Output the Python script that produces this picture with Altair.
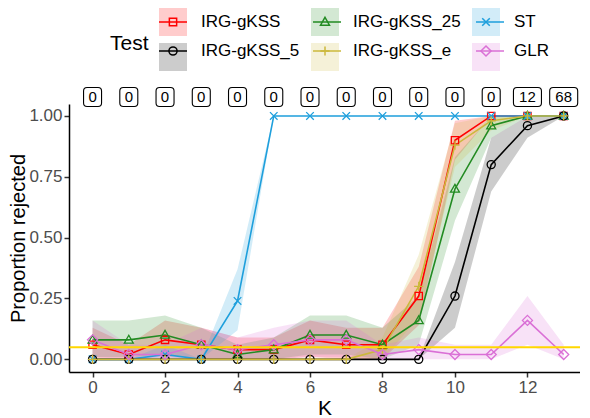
import altair as alt
import pandas as pd

# K values on the x axis
k_values = list(range(14))

# tests, in legend order (row by row)
tests = ["IRG-gKSS", "IRG-gKSS_25", "ST", "IRG-gKSS_5", "IRG-gKSS_e", "GLR"]
colors = ["#FF0000", "#228B22", "#1E9FDC", "#000000", "#CBB83C", "#DA70D6"]
shapes = [
    "M-0.26,-0.26H0.26V0.26H-0.26Z",                                    # square
    "M0,-0.33L0.32,0.23H-0.32Z",                                        # triangle
    "M-0.27,-0.27L0.27,0.27M-0.27,0.27L0.27,-0.27",                     # cross
    "M0.29,0A0.29,0.29,0,1,1,-0.29,0A0.29,0.29,0,1,1,0.29,0Z",          # circle
    "M-0.33,0H0.33M0,-0.33V0.33",                                       # plus
    "M0,-0.36L0.36,0L0,0.36L-0.36,0Z",                                  # diamond
]

# proportion rejected and its band, one set per test
irg_gkss = [0.06, 0.02, 0.08, 0.06, 0.04, 0.04, 0.08, 0.06, 0.06, 0.26, 0.90, 1.00, 1.00, 1.00]
irg_gkss_lo = [0.00, 0.00, 0.01, 0.00, 0.00, 0.00, 0.01, 0.00, 0.00, 0.14, 0.82, 1.00, 1.00, 1.00]
irg_gkss_hi = [0.13, 0.06, 0.16, 0.13, 0.09, 0.09, 0.16, 0.13, 0.13, 0.38, 0.98, 1.00, 1.00, 1.00]

irg_gkss_25 = [0.08, 0.08, 0.10, 0.06, 0.02, 0.04, 0.10, 0.10, 0.06, 0.16, 0.70, 0.96, 1.00, 1.00]
irg_gkss_25_lo = [0.01, 0.01, 0.02, 0.00, 0.00, 0.00, 0.02, 0.02, 0.00, 0.06, 0.57, 0.91, 1.00, 1.00]
irg_gkss_25_hi = [0.16, 0.16, 0.18, 0.13, 0.06, 0.09, 0.18, 0.18, 0.13, 0.26, 0.83, 1.00, 1.00, 1.00]

st = [0.00, 0.00, 0.02, 0.00, 0.24, 1.00, 1.00, 1.00, 1.00, 1.00, 1.00, 1.00, 1.00, 1.00]
st_lo = [0.00, 0.00, 0.00, 0.00, 0.12, 1.00, 1.00, 1.00, 1.00, 1.00, 1.00, 1.00, 1.00, 1.00]
st_hi = [0.00, 0.00, 0.06, 0.00, 0.37, 1.00, 1.00, 1.00, 1.00, 1.00, 1.00, 1.00, 1.00, 1.00]

irg_gkss_5 = [0.00, 0.00, 0.00, 0.00, 0.00, 0.00, 0.00, 0.00, 0.00, 0.00, 0.26, 0.80, 0.96, 1.00]
irg_gkss_5_lo = [0.00, 0.00, 0.00, 0.00, 0.00, 0.00, 0.00, 0.00, 0.00, 0.00, 0.13, 0.69, 0.91, 1.00]
irg_gkss_5_hi = [0.00, 0.00, 0.00, 0.00, 0.00, 0.00, 0.00, 0.00, 0.00, 0.00, 0.40, 0.91, 1.00, 1.00]

irg_gkss_e = [0.00, 0.00, 0.00, 0.00, 0.00, 0.00, 0.00, 0.00, 0.04, 0.30, 0.88, 0.98, 1.00, 1.00]
irg_gkss_e_lo = [0.00, 0.00, 0.00, 0.00, 0.00, 0.00, 0.00, 0.00, 0.00, 0.17, 0.79, 0.94, 1.00, 1.00]
irg_gkss_e_hi = [0.00, 0.00, 0.00, 0.00, 0.00, 0.00, 0.00, 0.00, 0.09, 0.43, 0.97, 1.00, 1.00, 1.00]

glr = [0.08, 0.02, 0.02, 0.06, 0.04, 0.06, 0.08, 0.08, 0.02, 0.04, 0.02, 0.02, 0.16, 0.02]
glr_lo = [0.01, 0.00, 0.00, 0.00, 0.00, 0.00, 0.01, 0.01, 0.00, 0.00, 0.00, 0.00, 0.06, 0.00]
glr_hi = [0.16, 0.06, 0.06, 0.13, 0.09, 0.13, 0.16, 0.16, 0.06, 0.09, 0.06, 0.06, 0.26, 0.06]

# counts printed in the boxes above the panel
counts = [0, 0, 0, 0, 0, 0, 0, 0, 0, 0, 0, 0, 12, 68]

# nominal level
alpha_level = 0.05

FONT = "Liberation Sans"


def build_frame():
    """Long table with one row per test and K."""
    series = {
        "IRG-gKSS": (irg_gkss, irg_gkss_lo, irg_gkss_hi),
        "IRG-gKSS_25": (irg_gkss_25, irg_gkss_25_lo, irg_gkss_25_hi),
        "ST": (st, st_lo, st_hi),
        "IRG-gKSS_5": (irg_gkss_5, irg_gkss_5_lo, irg_gkss_5_hi),
        "IRG-gKSS_e": (irg_gkss_e, irg_gkss_e_lo, irg_gkss_e_hi),
        "GLR": (glr, glr_lo, glr_hi),
    }
    rows = []
    for name in tests:
        p, lo, hi = series[name]
        for k, v, l, h in zip(k_values, p, lo, hi):
            rows.append({"K": k, "Test": name, "Key": name, "p": v, "lo": l, "hi": h})
    return pd.DataFrame(rows)


def legend(zindex, symbol_type=None, visible_text=False, opacity=1):
    """Three legends are stacked on the same spot: boxes, lines, markers."""
    text_color = "black" if visible_text else "transparent"
    opts = dict(
        orient="none", legendX=41, legendY=-97, columns=3, direction="horizontal",
        title="Test", titleOrient="left", titleAnchor="middle", titleBaseline="top",
        titleFont=FONT, titleFontSize=21, titleFontWeight="normal", titleColor=text_color,
        titlePadding=9, labelFont=FONT, labelFontSize=17, labelColor=text_color,
        labelOffset=13, symbolSize=784, symbolStrokeWidth=1.5, symbolOpacity=opacity,
        rowPadding=6, columnPadding=10, padding=0, zindex=zindex,
    )
    if symbol_type:
        opts["symbolType"] = symbol_type
    return alt.Legend(**opts)


df = build_frame()
labels = pd.DataFrame({"K": k_values, "n": counts})
labels["label"] = labels["n"].astype(str)

x_enc = alt.X("K:Q", scale=alt.Scale(domain=[-0.65, 13.45], nice=False, zero=False),
              axis=alt.Axis(values=[0, 2, 4, 6, 8, 10, 12], title="K", titlePadding=2))
y_scale = alt.Scale(domain=[-0.052, 1.049], nice=False, zero=False)
y_axis = alt.Axis(values=[0, 0.25, 0.5, 0.75, 1], format=".2f",
                  title="Proportion rejected", titlePadding=0, titleFontSize=20)

# band legend: data-driven domain (sorted), so it is kept apart from the others
ribbons = alt.Chart(df).mark_area(opacity=0.2).encode(
    x=x_enc,
    y=alt.Y("lo:Q", scale=y_scale, axis=y_axis),
    y2="hi:Q",
    fill=alt.Fill("Test:N", sort=tests, scale=alt.Scale(range=colors),
                  legend=legend(0, "square", opacity=0.2)),
)

lines = alt.Chart(df).mark_line(strokeWidth=1.6).encode(
    x=x_enc,
    y=alt.Y("p:Q", scale=y_scale, axis=y_axis),
    stroke=alt.Stroke("Test:N", sort=tests, scale=alt.Scale(range=colors),
                      legend=legend(1, "stroke")),
)

# marker legend: colour and shape share an explicit domain, so they merge
points = alt.Chart(df).mark_point(filled=False, size=784, strokeWidth=1.3, opacity=1).encode(
    x=x_enc,
    y=alt.Y("p:Q", scale=y_scale, axis=y_axis),
    color=alt.Color("Key:N", scale=alt.Scale(domain=tests, range=colors),
                    legend=legend(2, visible_text=True)),
    shape=alt.Shape("Key:N", scale=alt.Scale(domain=tests, range=shapes),
                    legend=legend(2, visible_text=True)),
)

hline = alt.Chart(pd.DataFrame({"level": [alpha_level]})).mark_rule(
    color="#FFD700", strokeWidth=2
).encode(y=alt.Y("level:Q", scale=y_scale, axis=y_axis))

# boxed counts above the panel
label_y = alt.datum(1.078)
box_one = alt.Chart(labels).transform_filter("datum.n < 10").mark_rect(
    width=18, height=19, fill="white", stroke="black", strokeWidth=1.1, cornerRadius=3.5
).encode(x=x_enc, y=label_y)
box_two = alt.Chart(labels).transform_filter("datum.n >= 10").mark_rect(
    width=28, height=19, fill="white", stroke="black", strokeWidth=1.1, cornerRadius=3.5
).encode(x=x_enc, y=label_y)
box_text = alt.Chart(labels).mark_text(
    font=FONT, fontSize=15, color="black", baseline="middle"
).encode(x=x_enc, y=label_y, text="label:N")

chart = alt.layer(
    ribbons, lines, points, hline, box_one, box_two, box_text
).properties(
    width=511, height=268,
    autosize=alt.AutoSizeParams(type="none"),
    padding={"left": 61, "top": 96, "right": 0, "bottom": 46},
).configure_view(
    stroke=None
).configure_axis(
    grid=False, domainColor="black", domainWidth=1.5,
    tickColor="#333333", tickWidth=1.5, tickSize=5,
    labelFont=FONT, labelFontSize=17, labelColor="#4D4D4D", labelPadding=2,
    titleFont=FONT, titleFontSize=21, titleFontWeight="normal", titleColor="black",
)

chart.save("out.html", embed_options={"renderer": "svg", "actions": False})
